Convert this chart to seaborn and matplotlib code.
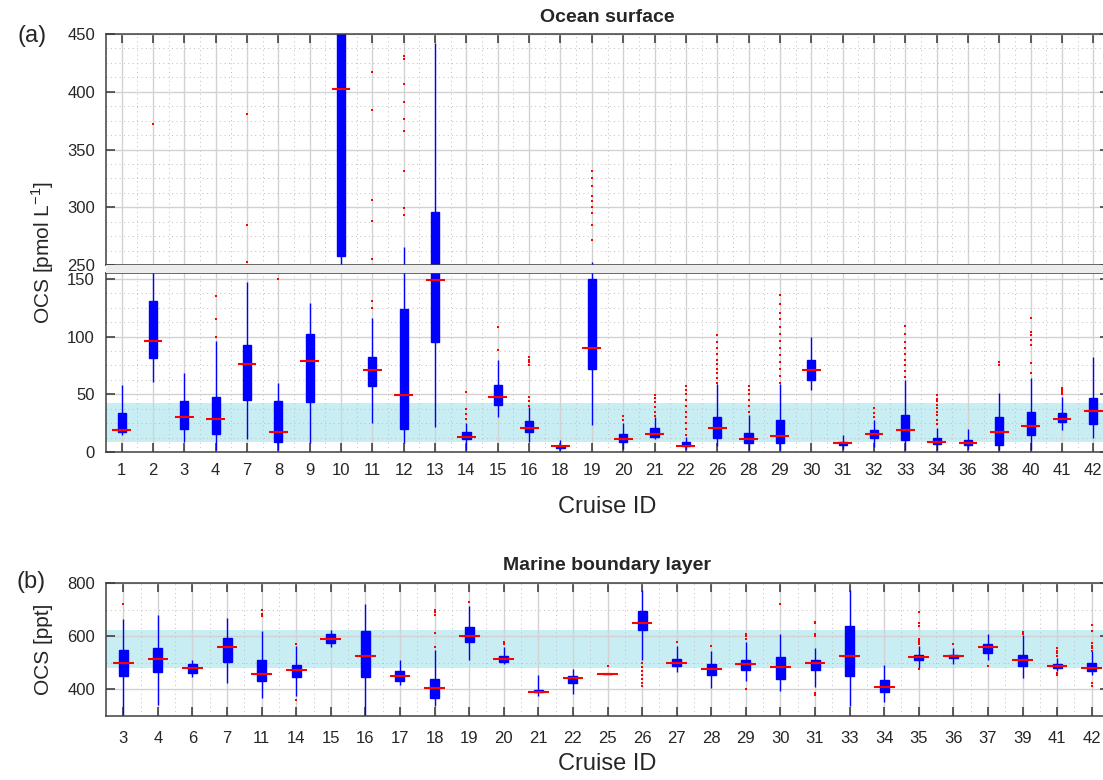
import numpy as np
import pandas as pd
import matplotlib.pyplot as plt
import matplotlib.ticker as mticker
from matplotlib.patches import Rectangle
import seaborn as sns

sns.set_style('white')
plt.rcParams['font.family'] = ['Liberation Sans', 'DejaVu Sans']
plt.rcParams['mathtext.fontset'] = 'custom'
plt.rcParams['mathtext.rm'] = 'Liberation Sans'

# ---- (a) ocean surface, pmol/L ----
cruise_a = [1, 2, 3, 4, 7, 8, 9, 10, 11, 12, 13, 14, 15, 16, 18, 19,
            20, 21, 22, 26, 28, 29, 30, 31, 32, 33, 34, 36, 38, 40, 41, 42]
a_lo  = [15, 61, 9, 2, 11, 2, 8, 250, 25, 8, 22, 2, 30, 9, 2, 23,
         3, 11, 3, 5, 2, 2, 54, 3, 4, 2, 2, 3, 2, 2, 19, 12]
a_q1  = [17, 81, 20, 16, 45, 9, 43, 258, 57, 20, 95, 11, 41, 17, 3.5, 72,
         8.6, 13.4, 5.4, 11.7, 7.7, 7.7, 62.6, 6, 11.7, 10.6, 7, 6.3, 6.3, 14.3, 25.7, 24]
a_med = [19, 96, 30, 29, 76, 17, 79, 402, 71, 49, 149, 13.4, 48, 20.6, 5.4, 90,
         11.4, 16, 5.4, 20.6, 11.4, 13.7, 71, 7.7, 16, 19, 8.9, 7.7, 17, 22.9, 28.9, 35.7]
a_q3  = [34, 131, 44, 48, 92.6, 44, 102, 520, 82, 124, 296, 17, 58, 27, 5, 150,
         15.4, 21, 8.3, 30.6, 16.6, 28, 79.7, 8.5, 18.9, 31.7, 11.7, 10.6, 30.6, 35, 34, 46.9]
a_hi  = [58, 156, 68, 96, 147, 60, 129, 620, 116, 266, 442, 25, 80, 38.6, 10.6, 253,
         25, 30.6, 13.4, 58.6, 32, 58.6, 100, 15, 28, 62, 20.6, 19.7, 51.4, 64, 47.7, 82]
a_out = [[], [372], [], [100, 115, 135], [253, 285, 381], [150], [], [],
         [125, 131, 255, 288, 306, 384, 417],
         [293, 299, 331, 366, 376, 391, 407, 428, 431], [],
         [29, 33, 37, 52], [88, 108], [40, 44, 48, 75, 78, 80, 82], [],
         [272, 285, 295, 300, 305, 310, 318, 325, 331],
         [28, 31], [31, 35, 39, 43, 47, 49],
         [15, 20, 25, 30, 35, 40, 45, 50, 54, 57],
         [60, 64, 68, 72, 76, 80, 85, 90, 95, 101],
         [35, 40, 45, 50, 54, 57],
         [60, 66, 72, 78, 84, 90, 96, 102, 108, 115, 120, 128, 136],
         [], [], [30, 34, 38],
         [65, 70, 75, 80, 85, 90, 95, 102, 109],
         [24, 28, 32, 35, 38, 41, 44, 46, 49], [], [75, 78],
         [68, 77, 93, 97, 101, 104, 116], [50, 52, 54, 55], []]
band_a = (9, 42)

# ---- (b) marine boundary layer, ppt ----
cruise_b = [3, 4, 6, 7, 11, 14, 15, 16, 17, 18, 19, 20, 21, 22, 25, 26,
            27, 28, 29, 30, 31, 33, 34, 35, 36, 37, 39, 41, 42]
b_lo  = [304, 342, 445, 425, 369, 375, 560, 304, 415, 337, 512, 494, 375, 384, 459, 510,
         466, 405, 431, 394, 410, 337, 354, 479, 496, 510, 441, 469, 456]
b_q1  = [450, 466, 460, 502, 431, 446, 575, 446, 431, 369, 580, 504, 390, 425, 459, 625,
         487, 456, 472, 440, 472, 450, 390, 512, 519, 537, 487, 481, 470]
b_med = [499, 515, 479, 561, 459, 474, 591, 525, 452, 407, 602, 515, 391, 444, 459, 649,
         500, 475, 495, 484, 500, 525, 409, 521, 525, 561, 510, 489, 482]
b_q3  = [547, 556, 494, 594, 511, 490, 607, 619, 469, 440, 634, 527, 397, 450, 459, 696,
         516, 496, 512, 521, 512, 640, 434, 531, 531, 572, 531, 496, 500]
b_hi  = [666, 679, 510, 669, 620, 562, 622, 722, 512, 547, 715, 560, 456, 475, 459, 775,
         562, 546, 577, 610, 556, 775, 490, 562, 556, 610, 606, 519, 544]
b_out = [[721], [], [], [], [675, 685, 700], [360, 570], [], [], [],
         [560, 612, 680, 690, 697], [730], [570, 575, 580], [], [], [489],
         [412, 425, 440, 455, 470, 485, 500], [578], [562], [400, 590, 600, 610],
         [721], [378, 385, 600, 610, 650, 655], [], [],
         [478, 570, 575, 580, 585, 590, 640, 650, 690], [570], [487],
         [608, 612, 615], [455, 462, 525, 535, 545, 555],
         [412, 425, 545, 555, 565, 575, 620, 642]]
band_b = (480, 624)

BLUE = '#0000ff'
RED = '#ff0000'
BAND = '#c8eef3'
TXT = '#262626'
W, H = 1103, 780


def box_frame(ids, lo, q1, med, q3, hi):
    vals = np.column_stack([lo, q1, med, q3, hi]).ravel()
    return pd.DataFrame({'cruise': np.repeat([str(c) for c in ids], 5), 'ocs': vals})


def out_frame(ids, outs):
    rows = [(str(c), v) for c, vs in zip(ids, outs) for v in vs]
    return pd.DataFrame(rows, columns=['cruise', 'ocs'])


def draw(ax, box_df, out_df, order):
    # narrow blue box + whiskers (whiskers go to min/max of the five stats)
    sns.boxplot(data=box_df, x='cruise', y='ocs', order=order, ax=ax,
                width=0.26, whis=(0, 100), showfliers=False, showcaps=False,
                color=BLUE, linecolor=BLUE, saturation=1, linewidth=1.0,
                medianprops=dict(color=RED, linewidth=1.5))
    # wider red median line
    sns.boxplot(data=box_df, x='cruise', y='ocs', order=order, ax=ax,
                width=0.6, whis=(0, 100), showfliers=False, showcaps=False,
                boxprops=dict(visible=False), whiskerprops=dict(visible=False),
                medianprops=dict(color=RED, linewidth=1.5))
    sns.stripplot(data=out_df, x='cruise', y='ocs', order=order, ax=ax,
                  jitter=False, color=RED, marker='s', size=2.0, linewidth=0,
                  zorder=4)


def style(ax, n, ylim, major, minor, band, top=True, bottom=True, labels=True):
    ax.set_xlim(-0.5, n - 0.5)
    ax.set_ylim(*ylim)
    ax.set_xlabel('')
    ax.set_ylabel('')
    ax.axhspan(*band, color=BAND, zorder=0.3, lw=0)
    ax.yaxis.set_major_locator(mticker.MultipleLocator(major))
    ax.yaxis.set_minor_locator(mticker.MultipleLocator(minor))
    ax.xaxis.set_minor_locator(mticker.FixedLocator(np.arange(n - 1) + 0.5))
    ax.set_axisbelow(True)
    ax.grid(True, which='major', color='#d2d2d2', lw=1.0)
    ax.grid(True, which='minor', color='#bdbdbd', lw=0.7, ls=(0, (1, 3.5)))
    ax.tick_params(which='major', direction='in', length=6.5, width=1.1,
                   color='#333333', labelsize=12, labelcolor=TXT, pad=8,
                   top=top, bottom=bottom, left=True, right=True,
                   labelbottom=labels)
    ax.tick_params(which='minor', length=0)
    for s in ax.spines.values():
        s.set_color('#404040')
        s.set_linewidth(1.1)


def px_axes(fig, left, top, width, height):
    return fig.add_axes([left / W, 1 - (top + height) / H, width / W, height / H])


fig = plt.figure(figsize=(W / 100, H / 100), dpi=100)
ax_top = px_axes(fig, 106, 34, 1003, 231)
ax_low = px_axes(fig, 106, 273, 1003, 179)
ax_b = px_axes(fig, 106, 583, 1003, 133)

order_a = [str(c) for c in cruise_a]
order_b = [str(c) for c in cruise_b]
df_a = box_frame(cruise_a, a_lo, a_q1, a_med, a_q3, a_hi)
df_b = box_frame(cruise_b, b_lo, b_q1, b_med, b_q3, b_hi)
out_a = out_frame(cruise_a, a_out)
out_b = out_frame(cruise_b, b_out)

for ax in (ax_top, ax_low):
    draw(ax, df_a, out_a, order_a)
draw(ax_b, df_b, out_b, order_b)

style(ax_top, len(order_a), (250, 450), 50, 12.5, band_a, top=True, bottom=False, labels=False)
style(ax_low, len(order_a), (0, 155), 50, 12.5, band_a, top=False, bottom=True)
style(ax_b, len(order_b), (300, 800), 200, 100, band_b)

# axis break band between the two parts of panel (a)
fig.patches.append(Rectangle((106 / W, 1 - 273 / H), 1003 / W, 8 / H,
                             transform=fig.transFigure, facecolor='#ececec',
                             edgecolor='none', zorder=5))

ax_low.set_xlabel('Cruise ID', fontsize=17, color=TXT, labelpad=13)
ax_b.set_xlabel('Cruise ID', fontsize=17, color=TXT, labelpad=5)
ax_b.xaxis.set_tick_params(pad=11)
ax_b.set_ylabel('OCS [ppt]', fontsize=15, color=TXT, labelpad=10)
fig.text(43 / W, 1 - 252 / H, 'OCS [pmol L$^{\\mathregular{-1}}$]', rotation=90,
         ha='center', va='center', fontsize=15, color=TXT)
fig.text(607 / W, 1 - 17 / H, 'Ocean surface', ha='center', va='center',
         fontsize=14, fontweight='bold')
fig.text(607 / W, 1 - 566 / H, 'Marine boundary layer', ha='center', va='center',
         fontsize=14, fontweight='bold')
fig.text(32 / W, 1 - 36 / H, '(a)', ha='center', va='center', fontsize=17, color=TXT)
fig.text(31 / W, 1 - 582 / H, '(b)', ha='center', va='center', fontsize=17, color=TXT)

fig.savefig('out.png', dpi=100)
